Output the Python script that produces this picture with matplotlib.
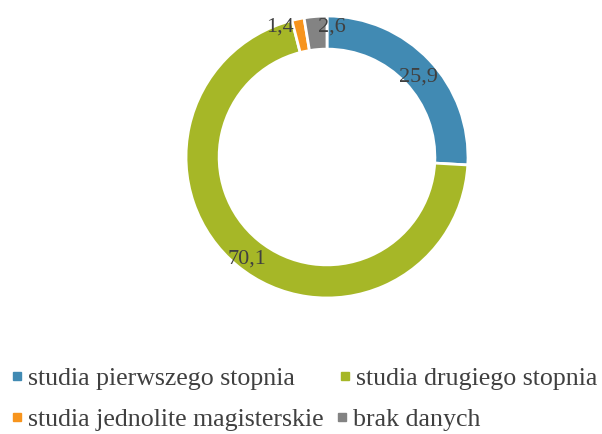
import numpy as np
import matplotlib
matplotlib.use("Agg")
import matplotlib.pyplot as plt
from matplotlib.lines import Line2D

categories = ["studia pierwszego stopnia", "studia drugiego stopnia",
              "studia jednolite magisterskie", "brak danych"]
values = [25.9, 70.1, 1.4, 2.6]
value_labels = ["25,9", "70,1", "1,4", "2,6"]
colors = ["#418AB3", "#A6B727", "#F7941D", "#838383"]

# label placement style (radius fraction, angle nudge in degrees)
label_style = [(0.86, -2.0), (0.92, 1.4), (0.98, 8.0), (0.92, -7.0)]

W, H = 602, 434
fig = plt.figure(figsize=(W / 100, H / 100), dpi=100)
font = ["Liberation Serif", "DejaVu Serif"]
text_color = "#404040"

cx, cy, R = 327, H - 157, 141
ax = fig.add_axes([(cx - R) / W, (cy - R) / H, 2 * R / W, 2 * R / H])
wedges, _ = ax.pie(values, colors=colors, startangle=90, counterclock=False,
                   radius=1.0,
                   wedgeprops=dict(width=0.235, edgecolor="white", linewidth=2.0))
ax.set_xlim(-1, 1)
ax.set_ylim(-1, 1)
ax.set_aspect("equal")
ax.axis("off")

for w, lab, (rf, dth) in zip(wedges, value_labels, label_style):
    mid = np.deg2rad((w.theta1 + w.theta2) / 2 + dth)
    ax.text(rf * np.cos(mid), rf * np.sin(mid), lab, ha="center", va="center",
            fontsize=16, family=font, color=text_color)

def handle(c):
    return Line2D([], [], linestyle="none", marker="s", markersize=5.8,
                  markerfacecolor=c, markeredgecolor=c)

fs = 18.6
rows = [(0, 1, 46), (2, 3, 14)]
ys = [H - 378, H - 419]
for (i, j, gap), y in zip(rows, ys):
    leg = fig.legend([handle(colors[i]), handle(colors[j])],
                     [categories[i], categories[j]], ncol=2,
                     loc="center left", bbox_to_anchor=(12 / W, y / H),
                     frameon=False, handlelength=0.35, handletextpad=0.25,
                     columnspacing=gap / (fs * 100 / 72), borderpad=0,
                     borderaxespad=0,
                     prop=dict(family=font, size=fs))
    for t in leg.get_texts():
        t.set_color(text_color)

fig.savefig("out.png", dpi=100)
